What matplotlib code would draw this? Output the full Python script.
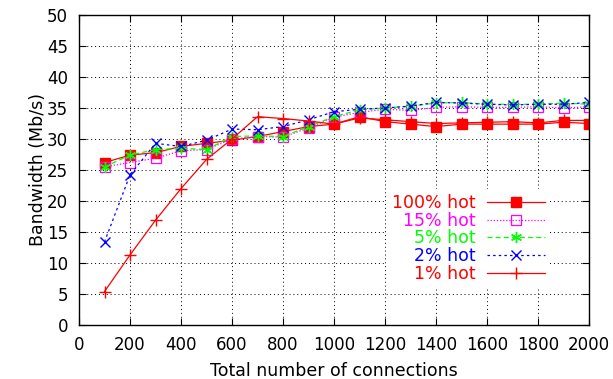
import matplotlib
matplotlib.use('Agg')
import matplotlib.pyplot as plt
import numpy as np

plt.rcParams['font.family'] = ['DejaVu Sans']

conns = [100, 200, 300, 400, 500, 600, 700, 800, 900, 1000,
         1100, 1200, 1300, 1400, 1500, 1600, 1700, 1800, 1900, 2000]

hot100 = [26.2, 27.4, 27.8, 28.8, 29.3, 29.8, 30.4, 31.2, 32.0, 32.4,
          33.6, 32.8, 32.4, 32.0, 32.4, 32.4, 32.4, 32.4, 32.7, 32.5]
hot15 = [25.5, 26.2, 26.9, 28.1, 28.3, 30.0, 30.4, 30.3, 31.8, 33.5,
         34.3, 34.8, 34.6, 35.1, 35.2, 35.1, 35.1, 35.2, 35.0, 35.2]
hot5 = [25.5, 27.4, 28.3, 28.5, 28.3, 30.4, 30.5, 30.4, 32.0, 33.6,
        34.7, 35.0, 35.3, 35.8, 35.9, 35.6, 35.6, 35.6, 35.8, 35.6]
hot2 = [13.4, 24.2, 29.3, 28.8, 29.8, 31.6, 31.5, 32.0, 33.1, 34.4,
        34.8, 35.0, 35.3, 35.9, 35.8, 35.6, 35.5, 35.6, 35.6, 35.9]
hot1 = [5.4, 11.3, 16.9, 22.0, 26.7, 30.0, 33.6, 33.3, 32.9, 32.4,
        33.4, 33.1, 32.8, 32.5, 32.6, 32.7, 32.8, 32.6, 33.0, 33.0]

fig = plt.figure(figsize=(6.13, 3.79), dpi=100)
ax = fig.add_axes([79 / 613, 1 - 325 / 379, 510 / 613, 310 / 379])

asterisk = (6, 2, 0)
ax.plot(conns, hot100, color='#ff0000', lw=0.9, ls='-', marker='s', ms=7,
        label='100% hot')
ax.plot(conns, hot15, color='#ff00ff', lw=0.9, ls=(0, (1, 1.5)), marker='s', ms=7,
        mfc='none', mew=0.9, label='15% hot')
ax.plot(conns, hot5, color='#00ff00', lw=0.9, ls=(0, (4, 2.5)), marker=asterisk, ms=8,
        mew=1.0, label='5% hot')
ax.plot(conns, hot2, color='#0000ff', lw=0.9, ls=(0, (2, 2.5)), marker='x', ms=7,
        mew=1.0, label='2% hot')
ax.plot(conns, hot1, color='#ff0000', lw=0.9, ls='-', marker='+', ms=9,
        mew=1.0, label='1% hot')

ax.set_xlim(0, 2000)
ax.set_ylim(0, 50)
ax.set_xticks(np.arange(0, 2001, 200))
ax.set_yticks(np.arange(0, 51, 5))
ax.grid(True, color='black', ls=(0, (1, 3)), lw=0.7)
ax.tick_params(direction='in', top=True, right=True, length=5, labelsize=12)
ax.tick_params(axis='x', pad=8)
ax.tick_params(axis='y', pad=8)
for s in ax.spines.values():
    s.set_linewidth(1.0)

ax.set_xlabel('Total number of connections', fontsize=12.5, labelpad=6)
ax.set_ylabel('Bandwidth (Mb/s)', fontsize=12.5, labelpad=0)

leg = ax.legend(loc='lower right', bbox_to_anchor=(0.9235, 0.12), markerfirst=False,
                frameon=True, fancybox=False, framealpha=1, edgecolor='none',
                fontsize=12.5, handlelength=3.3, labelspacing=-0.025, borderpad=0.3,
                borderaxespad=0, handletextpad=0.7)
for txt, line in zip(leg.get_texts(), leg.get_lines()):
    txt.set_color(line.get_color())
leg._legend_box.align = 'right'

fig.savefig('out.png', dpi=100)
